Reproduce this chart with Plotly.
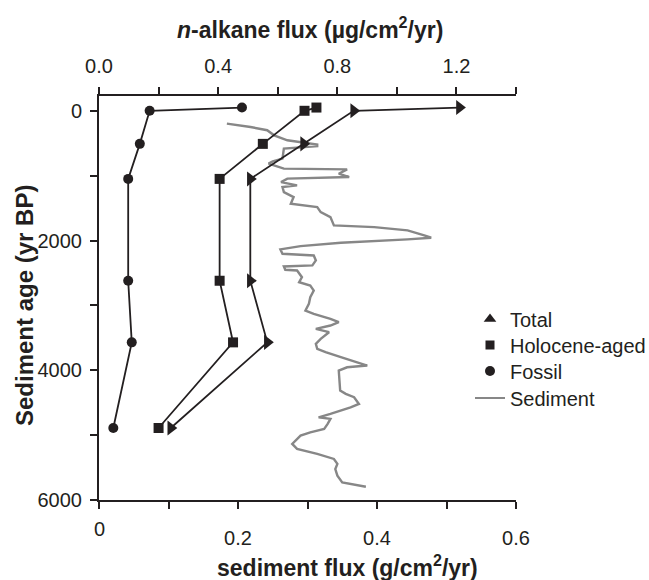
import plotly.graph_objects as go

# Sample ages (yr BP) for the n-alkane flux profiles
age = [-50, 0, 510, 1050, 2620, 3570, 4890]
# n-alkane fluxes (ug/cm2/yr)
total = [1.21, 0.855, 0.687, 0.508, 0.508, 0.565, 0.241]
holocene = [0.73, 0.69, 0.55, 0.405, 0.405, 0.45, 0.20]
fossil = [0.48, 0.17, 0.137, 0.098, 0.098, 0.11, 0.048]

# Sediment flux record (g/cm2/yr) versus age
sed_age = [198, 250, 300, 378, 455, 522, 545, 583, 738, 780, 815, 880, 892, 903,
           970, 1021, 1046, 1100, 1150, 1176, 1253, 1330, 1432, 1484, 1562, 1639,
           1767, 1793, 1844, 1921, 1957, 1983, 1998, 2034, 2086, 2137, 2204, 2230,
           2307, 2384, 2400, 2451, 2461, 2565, 2642, 2693, 2770, 2873, 2975, 3079,
           3130, 3207, 3259, 3310, 3361, 3413, 3516, 3593, 3670, 3722, 3799, 3876,
           3927, 3954, 4005, 4313, 4364, 4416, 4519, 4571, 4622, 4673, 4725, 4750,
           4827, 4904, 4957, 5008, 5136, 5213, 5290, 5367, 5444, 5522, 5625, 5728,
           5795]
sed_flux = [0.184, 0.218, 0.242, 0.252, 0.271, 0.314, 0.314, 0.266, 0.264, 0.250,
            0.244, 0.262, 0.266, 0.357, 0.345, 0.360, 0.271, 0.262, 0.285, 0.264,
            0.266, 0.280, 0.276, 0.314, 0.319, 0.333, 0.338, 0.396, 0.444, 0.468,
            0.478, 0.444, 0.410, 0.348, 0.290, 0.261, 0.264, 0.309, 0.312, 0.307,
            0.266, 0.268, 0.285, 0.292, 0.288, 0.304, 0.309, 0.304, 0.302, 0.297,
            0.309, 0.333, 0.345, 0.333, 0.312, 0.331, 0.319, 0.312, 0.314, 0.326,
            0.348, 0.372, 0.386, 0.357, 0.345, 0.347, 0.355, 0.367, 0.374, 0.362,
            0.348, 0.333, 0.316, 0.333, 0.329, 0.324, 0.304, 0.290, 0.278, 0.285,
            0.314, 0.338, 0.343, 0.340, 0.343, 0.350, 0.384]

# Axis ticks
sed_ticks = [0, 0.1, 0.2, 0.3, 0.4, 0.5, 0.6]
sed_ticktext = ["", "", "0.2", "", "0.4", "", "0.6"]
alk_ticks = [0, 0.2, 0.4, 0.6, 0.8, 1.0, 1.2, 1.4]
alk_ticktext = ["0.0", "", "0.4", "", "0.8", "", "1.2", ""]
age_ticks = [0, 1000, 2000, 3000, 4000, 5000, 6000]
age_ticktext = ["0", "", "2000", "", "4000", "", "6000"]

FONT = "Liberation Sans, Arial, Helvetica, sans-serif"
INK = "#231f20"
GREY = "#878787"

W, H = 649, 580
L, R, T, B = 99, 133, 96, 80
PW, PH = W - L - R, H - T - B


def px_x(px):
    return (px - L) / PW


def px_y(py):
    return (H - B - py) / PH


fig = go.Figure()

fig.add_trace(go.Scatter(x=sed_flux, y=sed_age, mode="lines", xaxis="x", yaxis="y",
                         line=dict(color=GREY, width=2.4), showlegend=False))

profiles = [
    (total, "triangle-right", 13),
    (holocene, "square", 10),
    (fossil, "circle", 10),
]
for vals, sym, sz in profiles:
    fig.add_trace(go.Scatter(x=vals, y=age, mode="lines+markers", xaxis="x2", yaxis="y",
                             line=dict(color=INK, width=1.8),
                             marker=dict(symbol=sym, size=sz, color=INK),
                             showlegend=False))

# Legend entries, one legend box per row
legend_rows = [
    ("Total", dict(mode="markers", marker=dict(symbol="triangle-up", size=11, color=INK)), 319),
    ("Holocene-aged", dict(mode="markers", marker=dict(symbol="square", size=9, color=INK)), 345),
    ("Fossil", dict(mode="markers", marker=dict(symbol="circle", size=10, color=INK)), 371),
    ("Sediment", dict(mode="lines", line=dict(color=GREY, width=2)), 398),
]
legend_layout = {}
for i, (name, style, yc) in enumerate(legend_rows):
    key = "legend" if i == 0 else f"legend{i + 1}"
    fig.add_trace(go.Scatter(x=[None], y=[None], name=name, legend=key,
                             xaxis="x2", yaxis="y", **style))
    legend_layout[key] = dict(xref="container", yref="container", x=470 / W,
                              y=1 - yc / H, xanchor="left", yanchor="middle",
                              bgcolor="rgba(0,0,0,0)",
                              font=dict(family=FONT, size=20, color=INK))

axis_common = dict(showgrid=False, zeroline=False, showline=True, linecolor=INK,
                   linewidth=2, ticks="outside", ticklen=7, tickwidth=2,
                   tickcolor=INK, automargin=False,
                   tickfont=dict(family=FONT, size=20, color=INK))

title_font = dict(family=FONT, size=23, color=INK)

fig.update_layout(
    width=W, height=H,
    margin=dict(l=L, r=R, t=T, b=B, autoexpand=False),
    paper_bgcolor="white", plot_bgcolor="white",
    font=dict(family=FONT, color=INK),
    xaxis=dict(range=[0, 0.6], tickmode="array", tickvals=sed_ticks,
               ticktext=sed_ticktext, ticklabelstandoff=12, **axis_common),
    xaxis2=dict(range=[0, 1.4], overlaying="x", side="top", tickmode="array",
                tickvals=alk_ticks, ticktext=alk_ticktext, ticklabelstandoff=6,
                **axis_common),
    yaxis=dict(range=[6000, -228], tickmode="array", tickvals=age_ticks,
               ticktext=age_ticktext, ticklabelstandoff=4, **axis_common),
    annotations=[
        dict(text="<b><i>n</i>-alkane flux (µg/cm<sup>2</sup>/yr)</b>",
             x=px_x(310), y=px_y(28), xref="paper", yref="paper",
             showarrow=False, font=title_font, xanchor="center", yanchor="middle"),
        dict(text="<b>sediment flux (g/cm<sup>2</sup>/yr)</b>",
             x=px_x(347), y=px_y(566), xref="paper", yref="paper",
             showarrow=False, font=title_font, xanchor="center", yanchor="middle"),
        dict(text="<b>Sediment age (yr BP)</b>", textangle=-90,
             x=px_x(24), y=px_y(306), xref="paper", yref="paper",
             showarrow=False, font=dict(family=FONT, size=24, color=INK),
             xanchor="center", yanchor="middle"),
        dict(text="0", x=0, xref="x", y=px_y(529), yref="paper",
             showarrow=False, font=dict(family=FONT, size=20, color=INK),
             xanchor="center", yanchor="middle"),
    ],
    **legend_layout,
)

fig.write_html("out.html")
